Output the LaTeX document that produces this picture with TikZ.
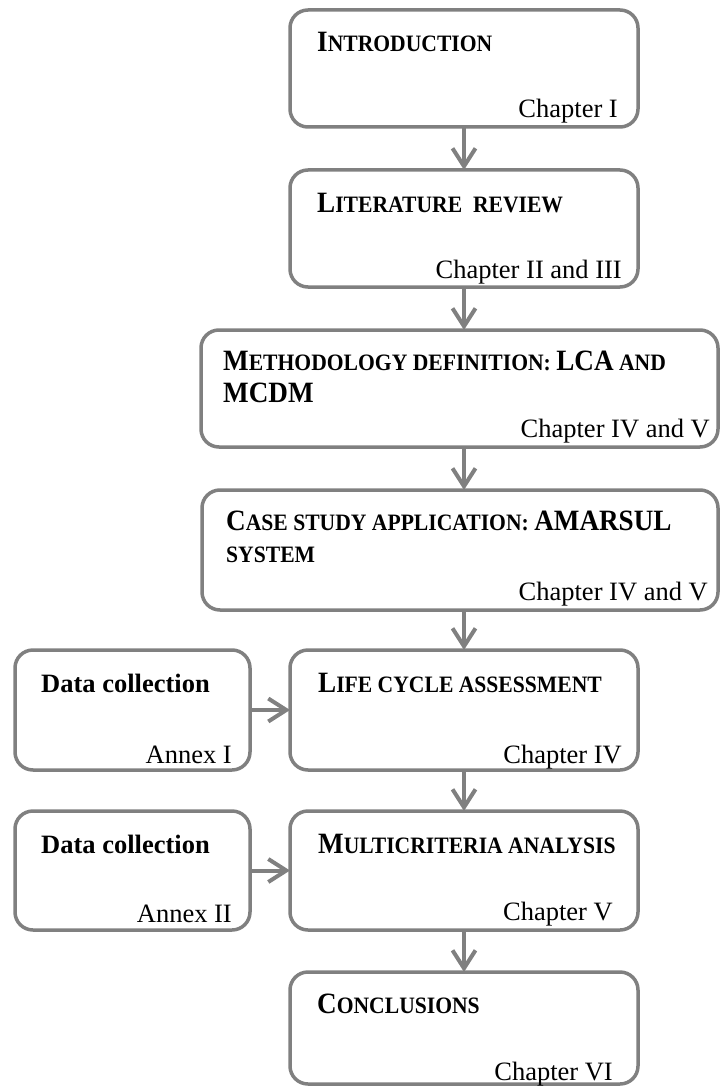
\documentclass[tikz,border=0pt]{standalone}
\usepackage{fontspec}
\setmainfont{Liberation Serif}
% slightly condensed face for the small-capital headings
\newfontfamily\hdfont[FakeStretch=0.92]{Liberation Serif}
\usetikzlibrary{arrows.meta,calc}

\definecolor{linegray}{RGB}{128,128,128}

% sizes for the capital / small-capital parts of the headings
\newcommand{\bigsz}{\fontsize{26.5}{30}\selectfont}
\newcommand{\hdbig}{\fontsize{29.5}{32}\selectfont}
\newcommand{\hdsml}{\fontsize{23.5}{28}\selectfont}
\newcommand{\Cap}[1]{{\hdbig #1}}
\newcommand{\Sml}[1]{{\hdsml #1}}

\tikzset{
  box/.style={draw=linegray, line width=3.5pt, rounded corners=18pt,
              inner sep=0pt, outer sep=0pt},
  flow/.style={draw=linegray, line width=4pt,
               -{Straight Barb[length=18pt,width=23pt]}},
  ttl/.style={anchor=base west, inner sep=0pt, font=\hdfont\bfseries},
  dat/.style={anchor=base west, inner sep=0pt, font=\bfseries\bigsz},
  chp/.style={anchor=base east, inner sep=0pt, font=\bigsz},
}

\begin{document}
\begin{tikzpicture}[x=1pt,y=-1pt]
\useasboundingbox (0,0) rectangle (720,1086);

% ---- boxes ----
\node[box, minimum width=348pt, minimum height=117pt] (b1) at (464,68.5) {};
\node[box, minimum width=348pt, minimum height=117pt] (b2) at (464,228.5) {};
\node[box, minimum width=517pt, minimum height=117pt] (b3) at (459.5,388.5) {};
\node[box, minimum width=516pt, minimum height=120pt] (b4) at (460,550) {};
\node[box, minimum width=348pt, minimum height=120pt] (b5) at (464,710) {};
\node[box, minimum width=235pt, minimum height=120pt] (d1) at (132.5,710) {};
\node[box, minimum width=348pt, minimum height=119pt] (b6) at (464,870.5) {};
\node[box, minimum width=235pt, minimum height=119pt] (d2) at (132.5,870.5) {};
\node[box, minimum width=348pt, minimum height=112pt] (b7) at (464,1028) {};

% ---- headings ----
\node[ttl] (t1) at ($(b1.north west)+(27,42)$) {\Cap{I}\Sml{NTRODUCTION}};
\node[ttl] (t2) at ($(b2.north west)+(27,42)$) {\Cap{L}\Sml{ITERATURE\ \ REVIEW}};
\node[ttl] (t3a) at ($(b3.north west)+(22,40)$) {\Cap{M}\Sml{ETHODOLOGY DEFINITION: }\Cap{LCA}\Sml{ AND}};
\node[ttl] (t3b) at ($(b3.north west)+(22,72)$) {\Cap{MCDM}};
\node[ttl] (t4a) at ($(b4.north west)+(24,40)$) {\Cap{C}\Sml{ASE STUDY APPLICATION: }\Cap{AMARSUL}};
\node[ttl] (t4b) at ($(b4.north west)+(24,72)$) {\Sml{SYSTEM}};
\node[ttl] (t5) at ($(b5.north west)+(28,42)$) {\Cap{L}\Sml{IFE CYCLE ASSESSMENT}};
\node[dat] (td1) at ($(d1.north west)+(26,42)$) {Data collection};
\node[ttl] (t6) at ($(b6.north west)+(28,42)$) {\Cap{M}\Sml{ULTICRITERIA ANALYSIS}};
\node[dat] (td2) at ($(d2.north west)+(26,42)$) {Data collection};
\node[ttl] (t7) at ($(b7.north west)+(27,41)$) {\Cap{C}\Sml{ONCLUSIONS}};

% ---- chapter / annex references ----
\node[chp] (c1) at ($(b1.south east)+(-20,-9)$) {Chapter I};
\node[chp] (c2) at ($(b2.south east)+(-16,-9)$) {Chapter II and III};
\node[chp] (c3) at ($(b3.south east)+(-8,-10)$) {Chapter IV and V};
\node[chp] (c4) at ($(b4.south east)+(-10,-10)$) {Chapter IV and V};
\node[chp] (c5) at ($(b5.south east)+(-16,-7)$) {Chapter IV};
\node[chp] (cd1) at ($(d1.south east)+(-18,-7)$) {Annex I};
\node[chp] (c6) at ($(b6.south east)+(-25,-10)$) {Chapter V};
\node[chp] (cd2) at ($(d2.south east)+(-18,-8)$) {Annex II};
\node[chp] (c7) at ($(b7.south east)+(-25,-4)$) {Chapter VI};

% ---- connectors ----
\draw[flow] (b1.south) -- (b1.south |- b2.north);
\draw[flow] (b2.south) -- (b2.south |- b3.north);
\draw[flow] (b3.south -| b1.south) -- (b1.south |- b4.north);
\draw[flow] (b4.south -| b1.south) -- (b5.north);
\draw[flow] (b5.south) -- (b6.north);
\draw[flow] (b6.south) -- (b7.north);
\draw[flow] (d1.east) -- (b5.west);
\draw[flow] (d2.east) -- (b6.west);
\end{tikzpicture}
\end{document}
